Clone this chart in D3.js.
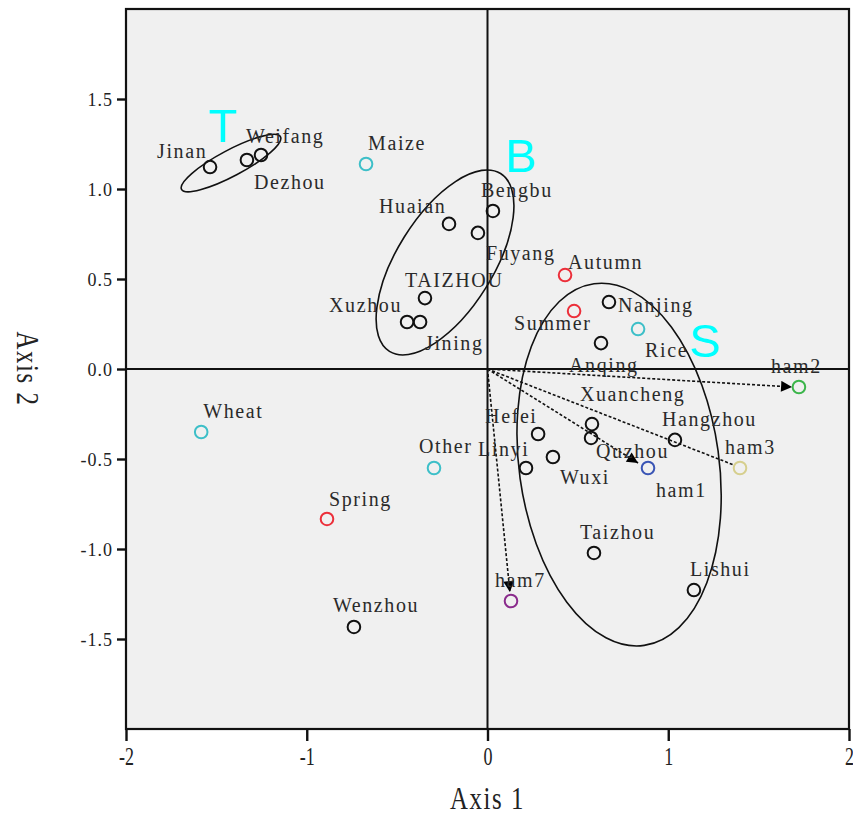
<!DOCTYPE html>
<html>
<head>
<meta charset="utf-8">
<script src="https://cdn.jsdelivr.net/npm/d3@7"></script>
<style>
  body { margin: 0; background: #fff; }
  svg { display: block; }
</style>
</head>
<body>
<svg id="chart" width="853" height="818"></svg>
<script>
// Sites on the first two axes
const siteNames = ["Jinan","Weifang","Dezhou","Huaian","Bengbu","Fuyang","TAIZHOU","Xuzhou","Jining",
  "Nanjing","Anqing","Xuancheng","Quzhou","Hefei","Linyi","Wuxi","Hangzhou","Taizhou","Lishui","Wenzhou"];
const siteAxis1 = [-1.535,-1.253,-1.331,-0.213,0.030,-0.053,-0.346,-0.445,-0.373,
  0.672,0.628,0.578,0.573,0.280,0.213,0.362,1.037,0.589,1.142,-0.739];
const siteAxis2 = [1.122,1.189,1.161,0.806,0.878,0.756,0.394,0.261,0.261,
  0.372,0.144,-0.306,-0.383,-0.361,-0.550,-0.489,-0.394,-1.022,-1.228,-1.433];

// Crop types
const cropNames = ["Maize","Rice","Wheat","Other"];
const cropAxis1 = [-0.672,0.833,-1.584,-0.296];
const cropAxis2 = [1.139,0.222,-0.350,-0.550];

// Seasons
const seasonNames = ["Autumn","Summer","Spring"];
const seasonAxis1 = [0.429,0.479,-0.888];
const seasonAxis2 = [0.522,0.322,-0.833];

// Haplotypes and their vectors from the origin
const hamNames = ["ham1","ham2","ham3","ham7"];
const hamAxis1 = [0.888,1.723,1.397,0.130];
const hamAxis2 = [-0.550,-0.100,-0.550,-1.289];
const hamColors = ["#3a55b5","#3bb54a","#d6cf8e","#8a2b8c"];
const vecAxis1 = [0.833,1.685,1.362,0.124];
const vecAxis2 = [-0.522,-0.100,-0.533,-1.239];
const vecHead  = [true,true,false,true];

// Site groups: centre, semi-axes (axis units), orientation of major axis (deg)
const groupNames  = ["T","B","S"];
const groupCx     = [-1.419,-0.235,0.728];
const groupCy     = [1.144,0.592,-0.531];
const groupMajor  = [0.310,0.580,1.010];
const groupMinor  = [0.072,0.266,0.553];
const groupAngle  = [28,58,97.9];
const groupTagX   = [-1.466,0.183,1.201];
const groupTagY   = [1.261,1.094,0.067];

const xTicks = [-2,-1,0,1,2];
const yTicks = [-1.5,-1,-0.5,0,0.5,1,1.5];

// Label placement relative to each marker (text start, baseline)
const labelOffset = {
  Jinan:[-53,-9], Weifang:[-15,-12], Dezhou:[7,29], Huaian:[-70,-11], Bengbu:[-12,-14],
  Fuyang:[8,27], TAIZHOU:[-20,-11], Xuzhou:[-78,-10], Jining:[5,28], Nanjing:[9,10],
  Anqing:[-32,29], Xuancheng:[-12,-23], Quzhou:[5,20], Hefei:[-53,-11], Linyi:[-48,-12],
  Wuxi:[7,27], Hangzhou:[-13,-14], Taizhou:[-14,-14], Lishui:[-4,-14], Wenzhou:[-21,-15],
  Maize:[2,-14], Rice:[7,28], Wheat:[2,-14], Other:[-15,-15],
  Autumn:[3,-6], Summer:[-60,19], Spring:[2,-13],
  ham1:[8,29], ham2:[-28,-14], ham3:[-15,-14], ham7:[-16,-14]
};

const margin = {left: 126, top: 9, right: 4, bottom: 89};
const W = 853, H = 818;
const x = d3.scaleLinear().domain([-2, 2]).range([margin.left, W - margin.right]);
const y = d3.scaleLinear().domain([-2, 2]).range([H - margin.bottom, margin.top]);
const pxPerUnit = x(1) - x(0);

const svg = d3.select("#chart");
const serif = "'Liberation Serif','Times New Roman',serif";

// plot background
svg.append("rect")
  .attr("x", x(-2)).attr("y", y(2))
  .attr("width", x(2) - x(-2)).attr("height", y(-2) - y(2))
  .attr("fill", "#f0f0f0");

// reference lines through the origin
svg.append("line").attr("x1", x(0)).attr("x2", x(0)).attr("y1", y(2)).attr("y2", y(-2))
  .attr("stroke", "#111").attr("stroke-width", 2);
svg.append("line").attr("x1", x(-2)).attr("x2", x(2)).attr("y1", y(0)).attr("y2", y(0))
  .attr("stroke", "#111").attr("stroke-width", 2);

// arrow marker
svg.append("defs").append("marker")
  .attr("id", "head").attr("viewBox", "0 0 10 10")
  .attr("refX", 10).attr("refY", 5)
  .attr("markerWidth", 13).attr("markerHeight", 11)
  .attr("markerUnits", "userSpaceOnUse")
  .attr("orient", "auto")
  .append("path").attr("d", "M0,0 L10,5 L0,10 Z").attr("fill", "#000");

// haplotype vectors
vecAxis1.forEach((vx, i) => {
  const ln = svg.append("line")
    .attr("x1", x(0)).attr("y1", y(0))
    .attr("x2", x(vx)).attr("y2", y(vecAxis2[i]))
    .attr("stroke", "#111").attr("stroke-width", 1.6)
    .attr("stroke-dasharray", "3,2");
  if (vecHead[i]) ln.attr("marker-end", "url(#head)");
});

// group ellipses
groupNames.forEach((g, i) => {
  svg.append("ellipse")
    .attr("cx", 0).attr("cy", 0)
    .attr("rx", groupMajor[i] * pxPerUnit)
    .attr("ry", groupMinor[i] * pxPerUnit)
    .attr("transform", `translate(${x(groupCx[i])},${y(groupCy[i])}) rotate(${-groupAngle[i]})`)
    .attr("fill", "none").attr("stroke", "#111").attr("stroke-width", 1.6);
  svg.append("text")
    .attr("x", x(groupTagX[i])).attr("y", y(groupTagY[i]))
    .attr("text-anchor", "middle")
    .attr("font-family", "'Liberation Sans',Arial,sans-serif")
    .attr("font-size", 47)
    .attr("fill", "#00ffff")
    .text(g);
});

// collect all markers
const points = [];
siteNames.forEach((n, i) => points.push({name: n, a1: siteAxis1[i], a2: siteAxis2[i], color: "#111"}));
cropNames.forEach((n, i) => points.push({name: n, a1: cropAxis1[i], a2: cropAxis2[i], color: "#3dbfc8"}));
seasonNames.forEach((n, i) => points.push({name: n, a1: seasonAxis1[i], a2: seasonAxis2[i], color: "#ec2f3a"}));
hamNames.forEach((n, i) => points.push({name: n, a1: hamAxis1[i], a2: hamAxis2[i], color: hamColors[i]}));

// labels
svg.append("g").selectAll("text").data(points).join("text")
  .attr("x", d => x(d.a1) + labelOffset[d.name][0])
  .attr("y", d => y(d.a2) + labelOffset[d.name][1])
  .attr("font-family", serif)
  .attr("font-size", 20)
  .attr("letter-spacing", 1.6)
  .attr("fill", "#2a2a2a")
  .text(d => d.name);

// markers
svg.append("g").selectAll("circle").data(points).join("circle")
  .attr("cx", d => x(d.a1)).attr("cy", d => y(d.a2))
  .attr("r", 6.3)
  .attr("fill", "none")
  .attr("stroke", d => d.color)
  .attr("stroke-width", 2);

// frame
svg.append("rect")
  .attr("x", x(-2)).attr("y", y(2))
  .attr("width", x(2) - x(-2)).attr("height", y(-2) - y(2))
  .attr("fill", "none").attr("stroke", "#111").attr("stroke-width", 2.2);

// axes
const xAxis = svg.append("g")
  .attr("transform", `translate(0,${y(-2)})`)
  .call(d3.axisBottom(x).tickValues(xTicks).tickSize(12).tickFormat(d => String(d)));
xAxis.select(".domain").remove();
xAxis.selectAll(".tick line").attr("stroke", "#111").attr("stroke-width", 2.4);
xAxis.selectAll(".tick text")
  .attr("y", 36).attr("dy", 0)
  .attr("transform", "scale(0.72,1)")
  .attr("font-family", serif).attr("font-size", 25).attr("fill", "#222");

const yAxis = svg.append("g")
  .attr("transform", `translate(${x(-2)},0)`)
  .call(d3.axisLeft(y).tickValues(yTicks).tickSize(9).tickFormat(d => d.toFixed(1)));
yAxis.select(".domain").remove();
yAxis.selectAll(".tick line").attr("stroke", "#111").attr("stroke-width", 2.4);
yAxis.selectAll(".tick text")
  .attr("x", -13).attr("dy", "0.35em")
  .attr("font-family", serif).attr("font-size", 18).attr("letter-spacing", 1)
  .attr("fill", "#222");

// axis titles
svg.append("text")
  .attr("transform", `translate(${x(0)},${H - 9}) scale(0.8,1)`)
  .attr("text-anchor", "middle")
  .attr("font-family", serif).attr("font-size", 31).attr("letter-spacing", 2)
  .attr("fill", "#222")
  .text("Axis 1");
svg.append("text")
  .attr("transform", `translate(17,${y(0)}) rotate(90) scale(0.8,1)`)
  .attr("text-anchor", "middle")
  .attr("font-family", serif).attr("font-size", 31).attr("letter-spacing", 2)
  .attr("fill", "#222")
  .text("Axis 2");
</script>
</body>
</html>
